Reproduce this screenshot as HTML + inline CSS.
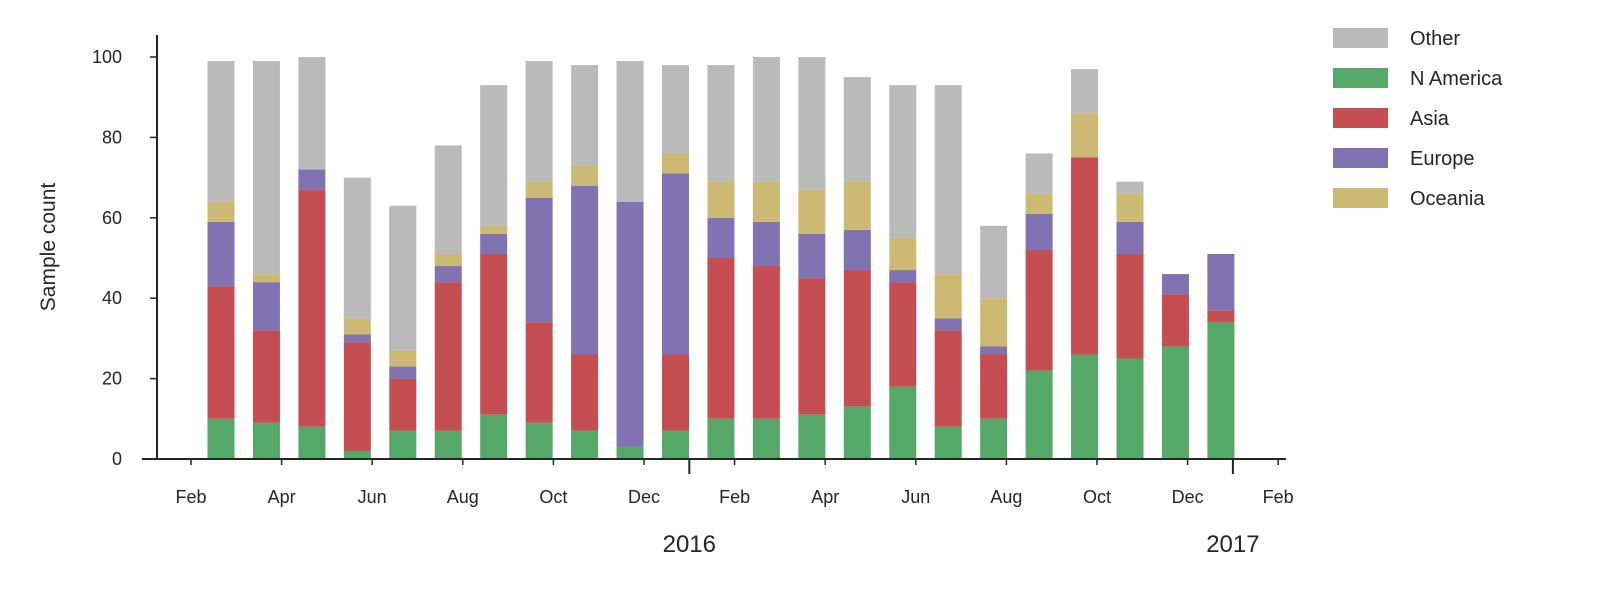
<!DOCTYPE html>
<html><head><meta charset="utf-8"><style>
body{margin:0;background:#fff;}
svg text{font-family:"Liberation Sans",Arial,sans-serif;fill:#262626;}
</style></head><body>
<svg id="chart" width="1600" height="600" xmlns="http://www.w3.org/2000/svg"></svg>
<script>
const months=["Feb15","Mar15","Apr15","May15","Jun15","Jul15","Aug15","Sep15","Oct15","Nov15","Dec15","Jan16","Feb16","Mar16","Apr16","May16","Jun16","Jul16","Aug16","Sep16","Oct16","Nov16","Dec16"];
const nAmerica=[10,9,8,2,7,7,11,9,7,3,7,10,10,11,13,18,8,10,22,26,25,28,34];
const asia=[33,23,59,27,13,37,40,25,19,0,19,40,38,34,34,26,24,16,30,49,26,13,3];
const europe=[16,12,5,2,3,4,5,31,42,61,45,10,11,11,10,3,3,2,9,0,8,5,14];
const oceania=[5,2,0,4,4,3,2,4,5,0,5,9,10,11,12,8,11,12,5,11,7,0,0];
const other=[35,53,28,35,36,27,35,30,25,35,22,29,31,33,26,38,47,18,10,11,3,0,0];
const yTicks=[0,20,40,60,80,100];
const monthLabels=["Feb","Apr","Jun","Aug","Oct","Dec","Feb","Apr","Jun","Aug","Oct","Dec","Feb"];
const yearLabels=["2016","2017"];

const svg=document.getElementById('chart');
const NS="http://www.w3.org/2000/svg";
function mk(t,a,p){const e=document.createElementNS(NS,t);for(const k in a)e.setAttribute(k,a[k]);(p||svg).appendChild(e);return e;}
const y0=459,yScale=4.02;
function Y(v){return y0-v*yScale;}
const mw=45.3,m0=191;
function X(mi){return m0+mi*mw;}
function BX(i){return 221+i*45.45;}
const series=[["n-america",nAmerica,"#55a868"],["asia",asia,"#c44e52"],["europe",europe,"#8172b2"],["oceania",oceania,"#ccb974"],["other",other,"#bababa"]];
const bw=27;
months.forEach((m,i)=>{
  let base=0;
  const cx=BX(i);
  series.forEach(s=>{
    const v=s[1][i];
    if(v>0){
      const r=mk('rect',{x:cx-bw/2,y:Y(base+v),width:bw,height:v*yScale,fill:s[2]});
      
      
    }
    base+=v;
  });
});
const ax=mk('line',{x1:157,y1:35,x2:157,y2:459,stroke:'#262626','stroke-width':2});

const xa=mk('line',{x1:142,y1:459,x2:1286,y2:459,stroke:'#262626','stroke-width':2});

yTicks.forEach(t=>{
  mk('line',{x1:150,y1:Y(t),x2:157,y2:Y(t),stroke:'#262626','stroke-width':1.5});
  const tx=mk('text',{x:122,y:Y(t)+6,'text-anchor':'end','font-size':18});
  tx.textContent=t;
  
});
monthLabels.forEach((l,k)=>{
  const xx=X(k*2);
  mk('line',{x1:xx,y1:459,x2:xx,y2:465,stroke:'#262626','stroke-width':1.5});
  const tx=mk('text',{x:xx,y:503,'text-anchor':'middle','font-size':18});
  tx.textContent=l;
  
});
yearLabels.forEach((l,k)=>{
  const xx=X(11+12*k);
  mk('line',{x1:xx,y1:459,x2:xx,y2:474,stroke:'#262626','stroke-width':2});
  const tx=mk('text',{x:xx,y:552,'text-anchor':'middle','font-size':24});
  tx.textContent=l;
  
});
const yl=mk('text',{x:0,y:0,'text-anchor':'middle','font-size':21,transform:'translate(55,247) rotate(-90)'});
yl.textContent='Sample count';

const leg=[["Other","#bababa"],["N America","#55a868"],["Asia","#c44e52"],["Europe","#8172b2"],["Oceania","#ccb974"]];
leg.forEach((l,i)=>{
  const y=38+i*40;
  const r=mk('rect',{x:1333,y:y-10,width:55,height:20,fill:l[1]});
  
  const t=mk('text',{x:1410,y:y+7,'font-size':20});
  t.textContent=l[0];
  
});
</script>
</body></html>
